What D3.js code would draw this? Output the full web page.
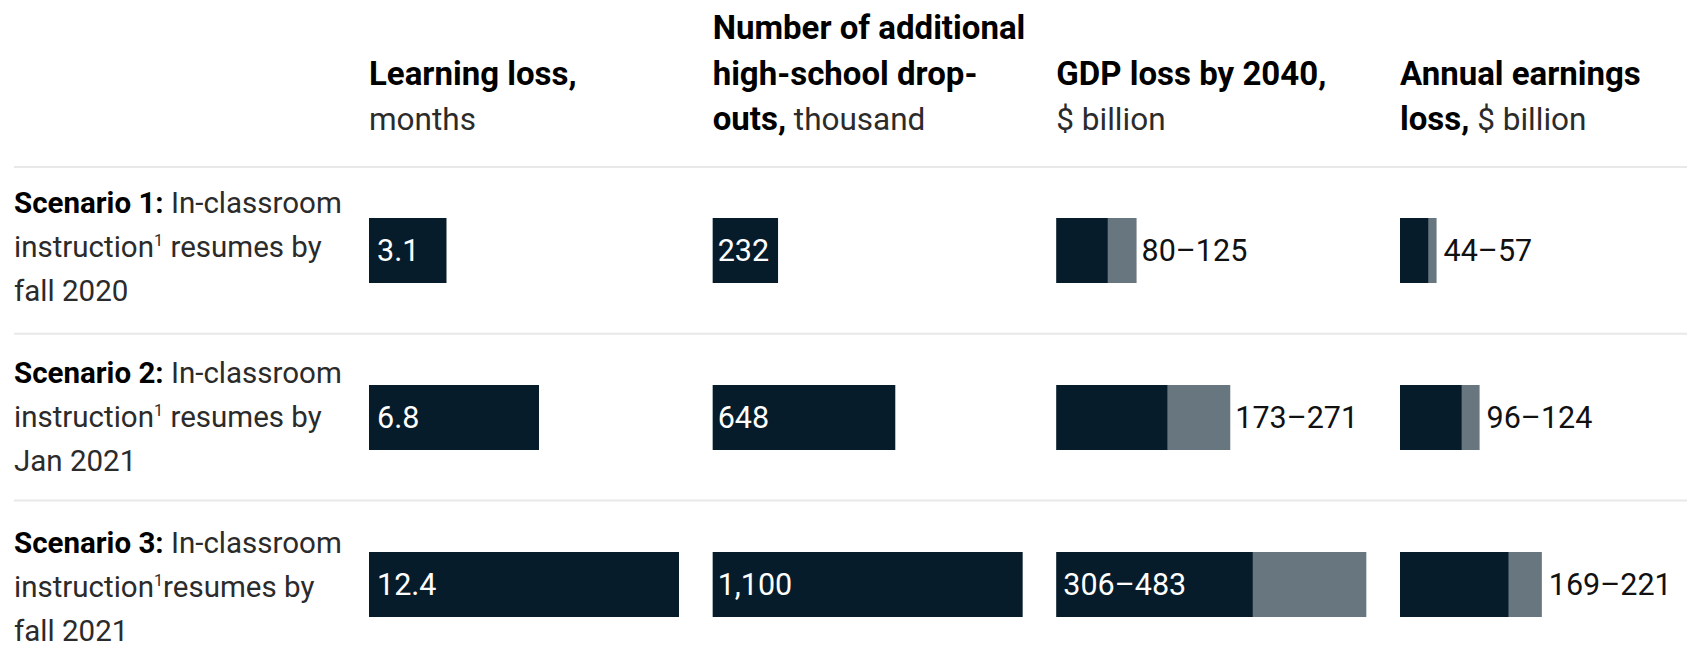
<!DOCTYPE html>
<html>
<head>
<meta charset="utf-8">
<script src="https://cdn.jsdelivr.net/npm/d3@7"></script>
<style>
	html, body { margin: 0; padding: 0; background: #fff; }
	svg { display: block; font-family: Roboto, "Liberation Sans", sans-serif; }
	.bold { font-weight: 700; }
</style>
</head>
<body>
<svg id="chart"></svg>
<script>
// data
const scenarios = ['Scenario 1', 'Scenario 2', 'Scenario 3'];
const scenarioLines = [
	['In-classroom', 'instruction', ' resumes by', 'fall 2020'],
	['In-classroom', 'instruction', ' resumes by', 'Jan 2021'],
	['In-classroom', 'instruction', 'resumes by', 'fall 2021']
];
const columns = ['learning', 'dropouts', 'gdp', 'earnings'];
const learningLoss = [3.1, 6.8, 12.4];
const dropouts = [232, 648, 1100];
const dropoutLabels = ['232', '648', '1,100'];
const gdpLow = [80, 173, 306];
const gdpHigh = [125, 271, 483];
const earningsLow = [44, 96, 169];
const earningsHigh = [57, 124, 221];

// header lines, each line a list of [text, isBold]
const headers = [
	[[['Learning loss,', true]], [['months', false]]],
	[[['Number of additional', true]], [['high-school drop-', true]], [['outs,', true], [' thousand', false]]],
	[[['GDP loss by 2040,', true]], [['$ billion', false]]],
	[[['Annual earnings', true]], [['loss,', true], [' $ billion', false]]]
];

const width = 1687,
	height = 664,
	settings = {
		left: 14,
		headerBottom: 130,// baseline of last header line
		lineHeight: 45.5,
		bodyLineHeight: 44,
		barHeight: 65,
		barMax: 310,
		dark: '#061c2b',
		grey: '#67767f',
		rule: '#e8e8e8',
		headerSize: 33,
		headerRegularSize: 31.5,
		bodySize: 29.5,
		valueSize: 30.5
	};

const svg = d3.select('#chart')
	.attr('width', width)
	.attr('height', height);

// scales
let colScale = d3.scalePoint()
		.domain(columns)
		.range([369, 1400]),
	ruleScale = d3.scalePoint()// row separators
		.domain(scenarios)
		.range([167, 500.5]),
	barScale = d3.scalePoint()// top of each row's bars
		.domain(scenarios)
		.range([218, 552]),
	textScale = d3.scalePoint()// first baseline of each scenario label
		.domain(scenarios)
		.range([212.5, 552.5]),
	learningScale = d3.scaleLinear()
		.domain([0, d3.max(learningLoss)])
		.range([0, settings.barMax]),
	dropoutScale = d3.scaleLinear()
		.domain([0, d3.max(dropouts)])
		.range([0, settings.barMax]),
	billionScale = d3.scaleLinear()// GDP and earnings share the $ billion scale
		.domain([0, d3.max(gdpHigh)])
		.range([0, settings.barMax]);

// column headers
headers.forEach((lines, c) => {
	let x = colScale(columns[c]),
		n = lines.length;
	lines.forEach((parts, j) => {
		let t = svg.append('text')
			.attr('x', x)
			.attr('y', settings.headerBottom - (n - 1 - j) * settings.lineHeight);
		parts.forEach(p => {
			t.append('tspan')
				.attr('class', p[1] ? 'bold' : null)
				.attr('font-size', p[1] ? settings.headerSize : settings.headerRegularSize)
				.attr('fill', p[1] ? '#000' : '#2b2b2b')
				.text(p[0]);
		});
	});
});

// separators
svg.selectAll('.rule')
	.data(scenarios)
	.enter()
	.append('line')
	.attr('class', 'rule')
	.attr('x1', settings.left)
	.attr('x2', width)
	.attr('y1', d => ruleScale(d))
	.attr('y2', d => ruleScale(d))
	.attr('stroke', settings.rule)
	.attr('stroke-width', 2);

// scenario labels
scenarios.forEach((s, i) => {
	let y0 = textScale(s),
		lh = settings.bodyLineHeight,
		lines = scenarioLines[i],
		g = svg.append('g')
			.attr('font-size', settings.bodySize)
			.attr('fill', '#2b2b2b');

	let t1 = g.append('text').attr('x', settings.left).attr('y', y0);
	t1.append('tspan').attr('class', 'bold').attr('fill', '#000').text(s + ': ');
	t1.append('tspan').text(lines[0]);

	let t2 = g.append('text').attr('x', settings.left).attr('y', y0 + lh);
	t2.append('tspan').text(lines[1]);
	t2.append('tspan')
		.attr('font-size', settings.bodySize * 0.55)
		.attr('dy', -11)
		.text('1');
	t2.append('tspan').attr('dy', 11).text(lines[2]);

	g.append('text').attr('x', settings.left).attr('y', y0 + 2 * lh).text(lines[3]);
});

// bar helpers
function barY(i) {
	return barScale(scenarios[i]);
}

function addBars(col, values, scale, fill) {
	svg.append('g')
		.selectAll('rect')
		.data(values)
		.enter()
		.append('rect')
		.attr('x', colScale(col))
		.attr('y', (d, i) => barY(i))
		.attr('width', d => scale(d))
		.attr('height', settings.barHeight)
		.attr('fill', fill);
}

function addLabels(col, texts, xFn, inside) {
	svg.append('g')
		.selectAll('text')
		.data(texts)
		.enter()
		.append('text')
		.attr('x', (d, i) => xFn(i))
		.attr('y', (d, i) => barY(i) + settings.barHeight / 2)
		.attr('dy', '0.36em')
		.attr('font-size', settings.valueSize)
		.attr('fill', (d, i) => inside(i) ? '#fff' : '#111')
		.text(d => d);
}

// learning loss
addBars('learning', learningLoss, learningScale, settings.dark);
addLabels('learning', learningLoss.map(d => d.toString()), i => colScale('learning') + 8, i => true);

// dropouts
addBars('dropouts', dropouts, dropoutScale, settings.dark);
addLabels('dropouts', dropoutLabels, i => colScale('dropouts') + 5, i => true);

// GDP range: grey to the high end, dark to the low end
addBars('gdp', gdpHigh, billionScale, settings.grey);
addBars('gdp', gdpLow, billionScale, settings.dark);
// last row's label sits inside the bar
let gdpInside = i => i === gdpLow.length - 1;
addLabels('gdp', gdpLow.map((d, i) => d + '–' + gdpHigh[i]),
	i => gdpInside(i) ? colScale('gdp') + 7 : colScale('gdp') + billionScale(gdpHigh[i]) + 5,
	gdpInside);

// earnings range
addBars('earnings', earningsHigh, billionScale, settings.grey);
addBars('earnings', earningsLow, billionScale, settings.dark);
addLabels('earnings', earningsLow.map((d, i) => d + '–' + earningsHigh[i]),
	i => colScale('earnings') + billionScale(earningsHigh[i]) + 7,
	i => false);
</script>
</body>
</html>
